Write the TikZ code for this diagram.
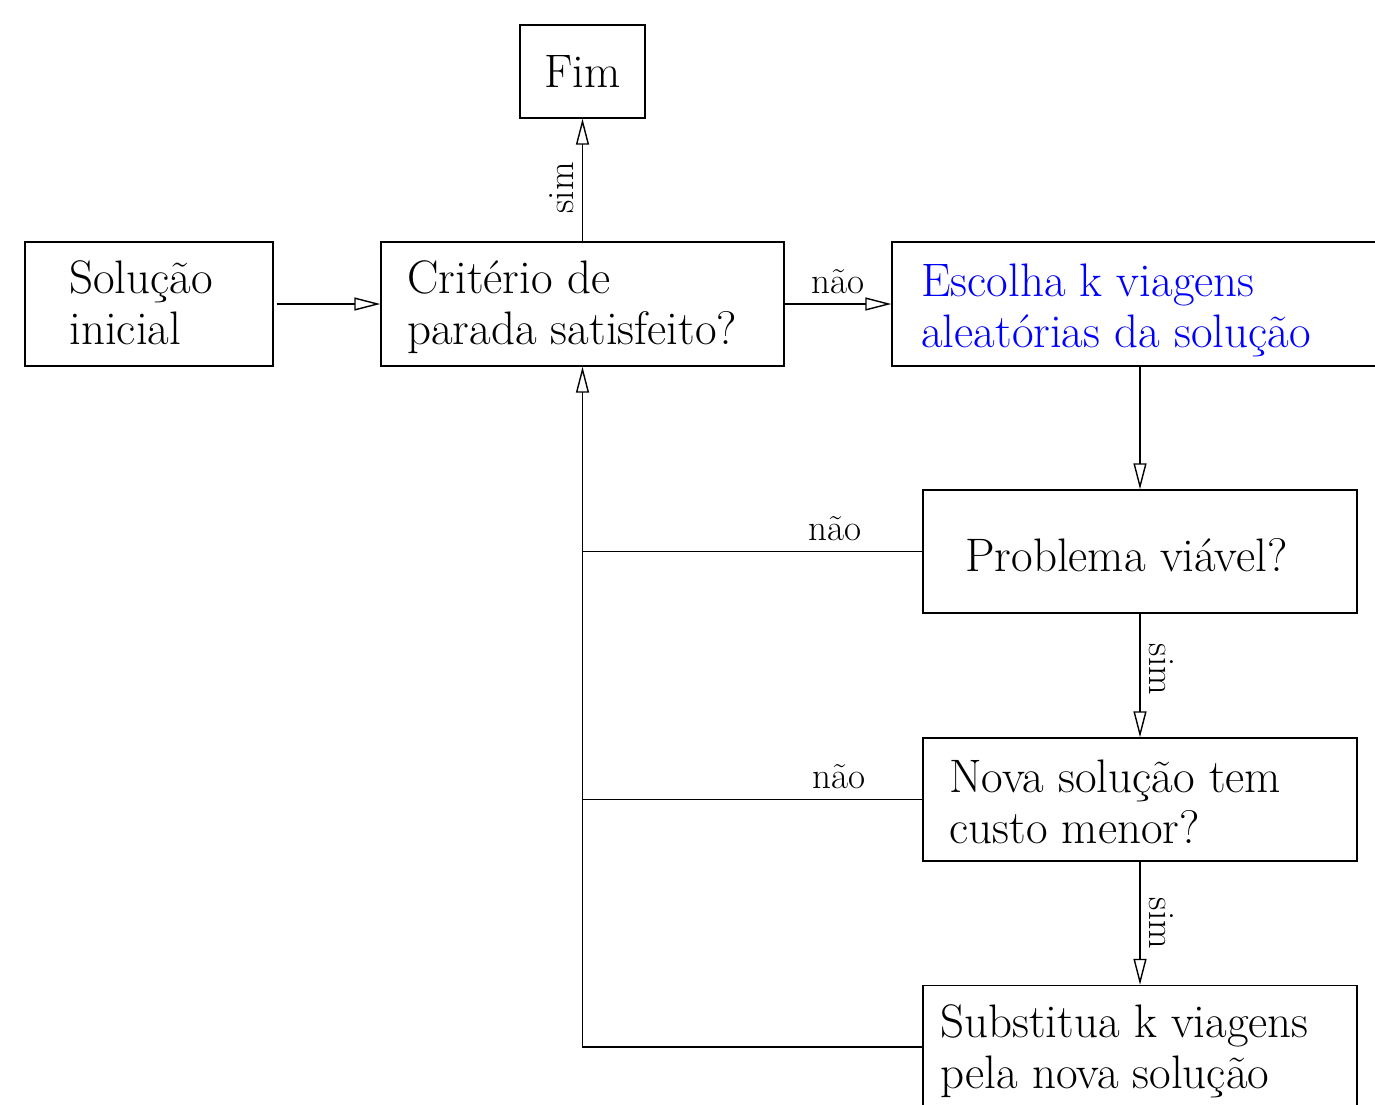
\documentclass[tikz,border=0pt]{standalone}
\usetikzlibrary{arrows.meta,calc}
\begin{document}
\begin{tikzpicture}[x=0.5pt,y=-0.5pt,
  box/.style={draw, line width=0.7pt, inner sep=0pt},
  txt/.style={align=left, inner sep=0pt, anchor=base west, font=\fontsize{23.5}{25.5}\selectfont},
  lbl/.style={inner sep=0pt, font=\fontsize{18.5}{20}\selectfont},
  conn/.style={line width=0.7pt, -{Triangle[open,length=13pt,width=6.5pt]}},
  wire/.style={line width=0.7pt}]
\useasboundingbox (0,0) rectangle (1375,1104);
% boxes
\node[box, minimum width=62.5pt, minimum height=46.5pt, font=\fontsize{23.5}{25.5}\selectfont] (fim) at (582.5,71.5) {Fim};
\node[box, minimum width=124pt, minimum height=62pt] (sol) at (149,304) {};
\node[box, minimum width=201.5pt, minimum height=62pt] (crit) at (582.5,304) {};
\node[box, minimum width=260pt, minimum height=62pt] (esc) at (1152,304) {};
\node[box, minimum width=217pt, minimum height=61.5pt] (prob) at (1140,551.5) {};
\node[box, minimum width=217pt, minimum height=61.5pt] (nova) at (1140,799.5) {};
\node[box, minimum width=217pt, minimum height=61.5pt] (subs) at (1140,1047) {};
% texts (anchored at the baseline of the last line)
\node[txt] (tsol) at (69,344) {Solu\c{c}\~ao\\inicial};
\node[txt] (tcrit) at (407,344) {Crit\'erio de\\parada satisfeito?};
\node[txt, text=blue] (tesc) at (921,347) {Escolha k viagens\\aleat\'orias da solu\c{c}\~ao};
\node[txt] (tprob) at (965,571) {Problema vi\'avel?};
\node[txt] (tnova) at (949,843) {Nova solu\c{c}\~ao tem\\custo menor?};
\node[txt] (tsubs) at (940,1088) {Substitua k viagens\\pela nova solu\c{c}\~ao};
% connectors
\draw[conn] ($(sol.east)+(3,0)$) -- (crit.west);
\draw[conn] (crit.east) -- node[lbl, above=5pt] {n\~ao} (esc.west);
\draw[conn] (crit.north) -- node[lbl, pos=0.435, rotate=90, above=4pt] {sim} (fim.south);
\draw[conn] (esc.south -| prob.north) -- (prob.north);
\draw[conn] (prob.south) -- node[lbl, pos=0.45, rotate=-90, above=4pt] {sim} (nova.north);
\draw[conn] (nova.south) -- node[lbl, pos=0.5, rotate=-90, above=4pt] {sim} (subs.north);
\draw[wire] (prob.west) -- node[lbl, pos=0.256, above=5pt] {n\~ao} (prob.west -| crit.south);
\draw[wire] (nova.west) -- node[lbl, pos=0.244, above=5pt] {n\~ao} (nova.west -| crit.south);
\draw[conn] (subs.west) -- (subs.west -| crit.south) -- (crit.south);
\end{tikzpicture}
\end{document}
